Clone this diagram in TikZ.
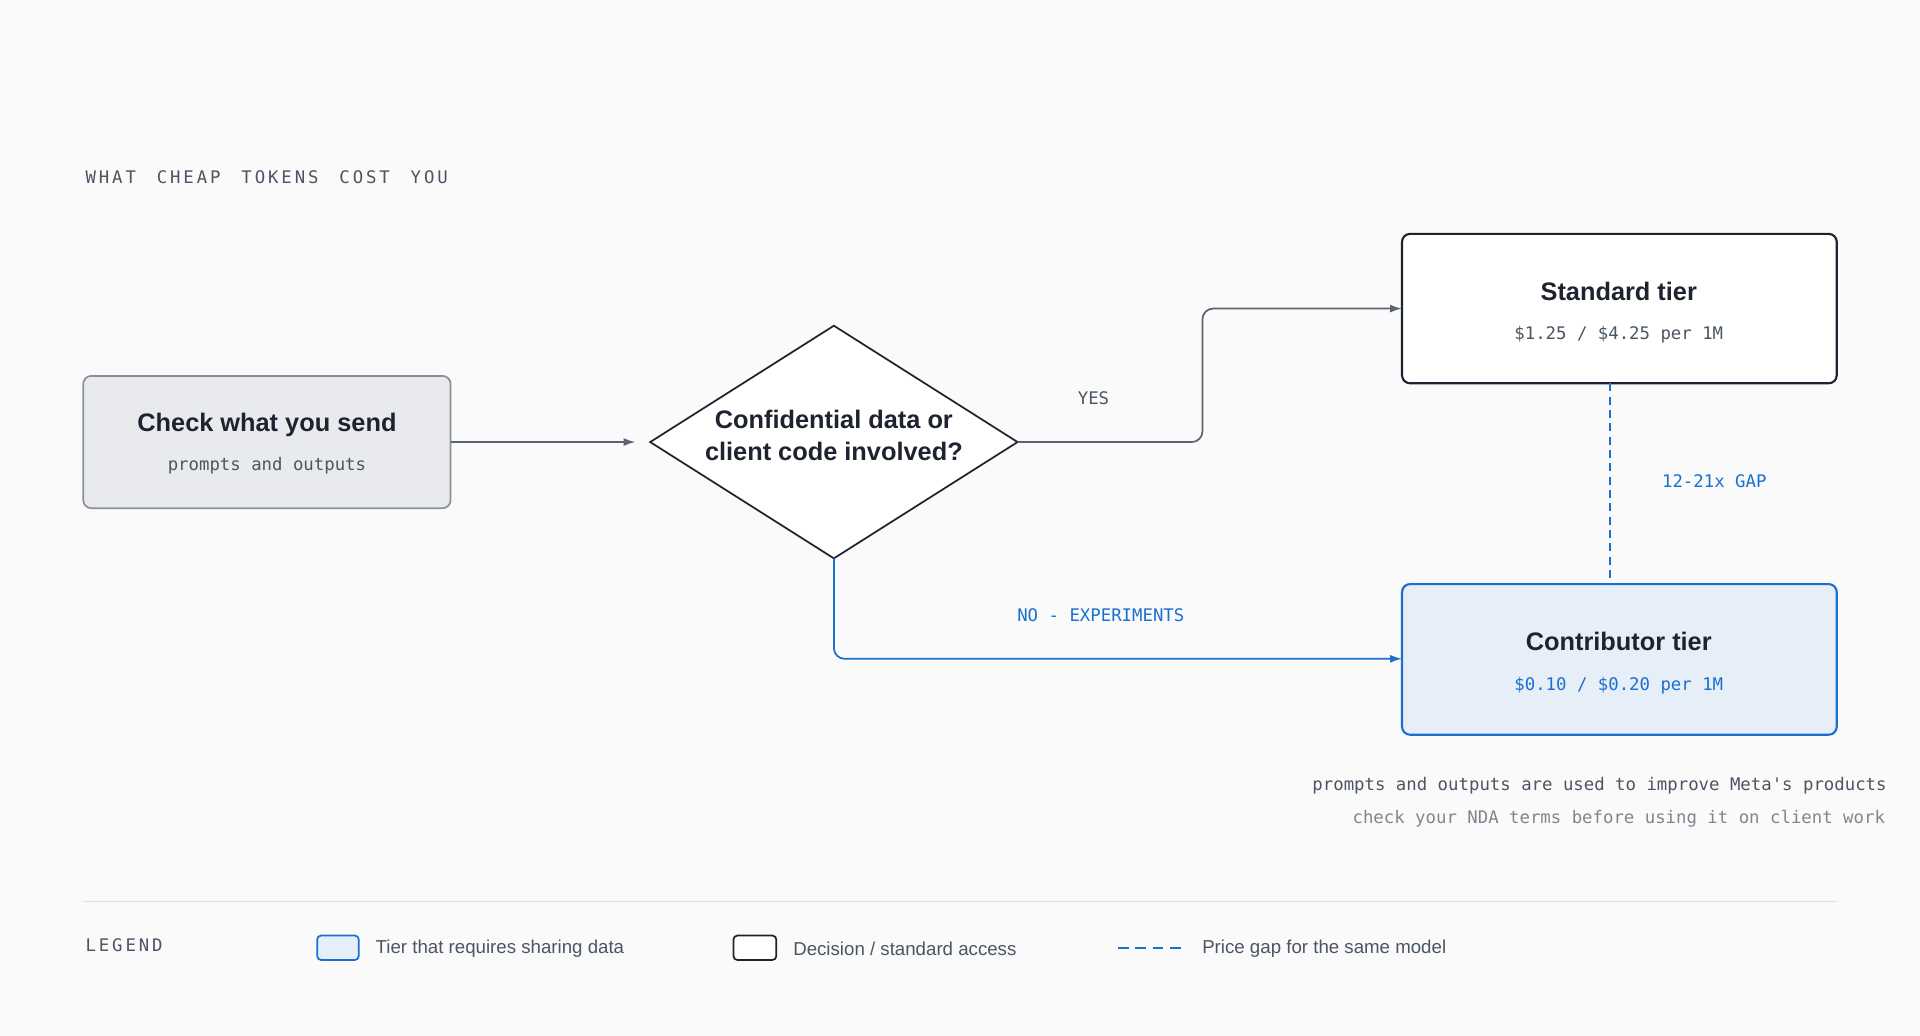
\documentclass[tikz,border=0pt]{standalone}
\usepackage{fontspec}
\setmainfont{Liberation Sans}
\setmonofont{DejaVu Sans Mono}
\usetikzlibrary{arrows.meta}
\definecolor{bg}{HTML}{FAFAFA}
\definecolor{dark}{HTML}{1F2330}
\definecolor{gtxt}{HTML}{4B5563}
\definecolor{gline}{HTML}{5B6472}
\definecolor{blu}{HTML}{1A6FD1}
\definecolor{blufill}{HTML}{E6EEF8}
\definecolor{boxa}{HTML}{E9EAED}
\definecolor{boxas}{HTML}{8A9099}
\definecolor{lgray}{HTML}{80868F}
\begin{document}
\begin{tikzpicture}[x=0.918pt,y=-0.918pt,
 ttl/.style={font=\fontsize{19}{22}\selectfont\bfseries,text=dark},
 sub/.style={font=\ttfamily\fontsize{13}{15}\selectfont},
 lab/.style={font=\ttfamily\fontsize{13}{15}\selectfont},
 leg/.style={font=\fontsize{14}{16}\selectfont,text=gtxt,anchor=west},
 arr/.style={line width=1.3pt,-{Latex[length=9pt,width=6pt]},rounded corners=8pt}]
\fill[bg] (0,0) rectangle (1568,846);
\clip (0,0) rectangle (1568,846);
\useasboundingbox (0,0) rectangle (1568,846);
\node[anchor=west,font=\ttfamily\fontsize{13}{15}\selectfont,text=gtxt] (h) at (66,145) {W\,H\,A\,T\ \ C\,H\,E\,A\,P\ \ T\,O\,K\,E\,N\,S\ \ C\,O\,S\,T\ \ Y\,O\,U};
\draw[fill=boxa,draw=boxas,line width=1.3pt,rounded corners=6pt] (68,307) rectangle (368,415);
\coordinate (aE) at (368,361);
\node[ttl] (at) at (218,347) {Check what you send};
\node[sub,text=gtxt] (as) at (218,380) {prompts and outputs};
\draw[fill=white,draw=dark,line width=1.3pt] (531,361)--(681,266)--(831,361)--(681,456)--cycle;
\coordinate (dW) at (519,361); \coordinate (dE) at (831,361); \coordinate (dS) at (681,456);
\node[ttl,align=center] (dt) at (681,356) {Confidential data or\\[2pt]client code involved?};
\draw[fill=white,draw=dark,line width=1.6pt,rounded corners=6pt] (1145,191) rectangle (1500,313);
\coordinate (sW) at (1145,252);
\node[ttl] (st) at (1322,238) {Standard tier};
\node[sub,text=gtxt] (ss) at (1322,273) {\$1.25 / \$4.25 per 1M};
\draw[fill=blufill,draw=blu,line width=1.6pt,rounded corners=6pt] (1145,477) rectangle (1500,600);
\coordinate (cW) at (1145,538);
\node[ttl] (ct) at (1322,524) {Contributor tier};
\node[sub,text=blu] (cs) at (1322,560) {\$0.10 / \$0.20 per 1M};
\draw[arr,gline] (aE)--(dW);
\draw[arr,gline] (dE)--(982,361)--(982,252)--(sW);
\node[lab,text=gtxt] (yes) at (893,325) {YES};
\draw[arr,blu] (dS)--(681,538)--(cW);
\node[lab,text=blu] (no) at (899,502) {NO - EXPERIMENTS};
\coordinate (g1) at (1315,313); \coordinate (g2) at (1315,477);
\draw[blu,line width=1.3pt,dash pattern=on 6pt off 4pt] (g1)--(g2);
\node[lab,text=blu] (gap) at (1400,393) {12-21x GAP};
\node[lab,text=gtxt,anchor=west] (n1) at (1068,642) {prompts and outputs are used to improve Meta's products};
\node[lab,text=lgray] (n2) at (1322,669) {check your NDA terms before using it on client work};
\draw[draw=black!12,line width=1pt] (68,736)--(1500,736);
\node[anchor=west,font=\ttfamily\fontsize{13}{15}\selectfont,text=gtxt] (lg) at (66,772) {L\,E\,G\,E\,N\,D};
\draw[fill=blufill,draw=blu,line width=1.3pt,rounded corners=3pt] (259,764) rectangle (293,784);
\node[leg] (l1) at (303,775) {Tier that requires sharing data};
\draw[fill=white,draw=dark,line width=1.3pt,rounded corners=3pt] (599,764) rectangle (634,784);
\node[leg] (l2) at (644,775) {Decision / standard access};
\draw[blu,line width=1.3pt,dash pattern=on 8pt off 5pt] (913,774)--(968,774);
\node[leg] (l3) at (978,775) {Price gap for the same model};
\end{tikzpicture}
\end{document}
